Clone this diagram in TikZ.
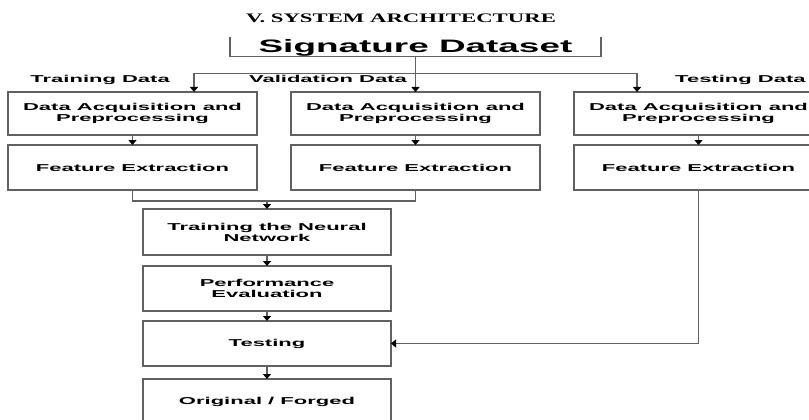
\documentclass[tikz,border=0pt]{standalone}
\usepackage{fontspec}
\setmainfont{Liberation Sans}
\newfontfamily\boxfont{Liberation Sans}[FakeStretch=2.2]
\newfontfamily\bigfont{Liberation Sans}[FakeStretch=2.05]
\newfontfamily\titlefont{Liberation Serif}[FakeStretch=1.75]
\usetikzlibrary{arrows.meta, positioning}
\tikzset{
    >={Triangle[width=8pt,length=5pt,color=black]},
    % Colors
    lineGray/.style={draw=black!62},
    % Shapes
    stage/.style={rectangle, lineGray, line width=1.3pt,
                  minimum width=249pt, minimum height=45pt, inner sep=2pt, outer sep=0pt,
                  align=center, font=\boxfont\bfseries\fontsize{10}{11}\selectfont},
    dataset/.style={rectangle, minimum width=371pt, minimum height=19pt, inner sep=0pt, outer sep=0pt,
                    text height=15pt, text depth=4pt, font=\bigfont\bfseries\fontsize{18}{20}\selectfont},
    heading/.style={inner sep=0pt, font=\titlefont\bfseries\fontsize{13}{15}\selectfont},
    % Flow & Labels
    flow/.style={lineGray, line width=1.3pt},
    arr/.style={->, flow},
    tag/.style={inner sep=0pt, font=\boxfont\bfseries\fontsize{10}{11}\selectfont}
}

\begin{document}
\begin{tikzpicture}[x=1pt, y=-1pt, node distance=10pt and 34pt]
\useasboundingbox (0,0) rectangle (809,420);
\clip (0,0) rectangle (809,420);

\node[heading] (title) at (401,18) {V. SYSTEM ARCHITECTURE};
\node[dataset] (sig) at (415.5,47) {Signature Dataset};
\draw[flow] (sig.north west) -- (sig.south west) -- (sig.south east) -- (sig.north east);

% three data branches
\node[stage, minimum height=43pt] (acq1) at (132.5,113.5) {Data Acquisition and\\Preprocessing};
\node[stage, minimum height=43pt, right=of acq1] (acq2) {Data Acquisition and\\Preprocessing};
\node[stage, minimum height=43pt, right=of acq2] (acq3) {Data Acquisition and\\Preprocessing};
\node[stage, below=of acq1] (fe1) {Feature Extraction};
\node[stage, below=of acq2] (fe2) {Feature Extraction};
\node[stage, below=of acq3] (fe3) {Feature Extraction};

\node[tag, anchor=base east] (trainlbl) at (170,82.5) {Training Data};
\node[tag, anchor=base east] (validlbl) at (407,82.5) {Validation Data};
\node[tag, anchor=base west] (testlbl) at (675,82.5) {Testing Data};

% main column
\node[stage, minimum width=248pt, minimum height=46pt] (train) at (267,232) {Training the Neural\\Network};
\node[stage, minimum width=248pt, below=11pt of train] (perf) {Performance\\Evaluation};
\node[stage, minimum width=248pt, below=of perf] (test) {Testing};
\node[stage, minimum width=248pt, minimum height=46pt, below=13pt of test] (orig) {Original / Forged};

\coordinate[below=17pt of sig.south] (split);
\coordinate[above=8pt of train.north] (join);

\draw[flow] (sig) -- (split);
\draw[arr] (split) -| ([xshift=-63pt]acq1.north east);
\draw[arr] (split) -- (acq2);
\draw[arr] (split) -| ([xshift=63pt]acq3.north west);

\draw[arr] (acq1) -- (fe1);
\draw[arr] (acq2) -- (fe2);
\draw[arr] (acq3) -- (fe3);

\draw[flow] (fe1.south) |- (join) -| (fe2.south);
\draw[arr] (join) -- (train);
\draw[arr] (train) -- (perf);
\draw[arr] (perf) -- (test);
\draw[arr] (test) -- (orig);
\draw[arr] (fe3.south) |- (test.east);

\end{tikzpicture}
\end{document}
